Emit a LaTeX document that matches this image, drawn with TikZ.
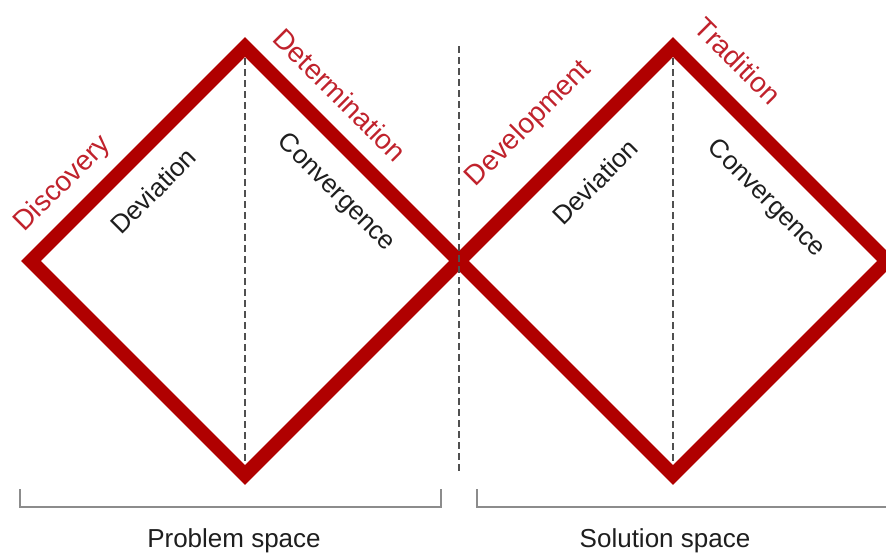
\documentclass[tikz,border=0pt]{standalone}
\usepackage{fontspec}
\setmainfont{Liberation Sans}
\definecolor{dred}{RGB}{176,0,0}
\definecolor{lred}{RGB}{192,34,44}
\definecolor{dgray}{RGB}{80,80,80}
\definecolor{bgray}{RGB}{140,140,140}
\definecolor{txt}{RGB}{30,30,30}
\begin{document}
\begin{tikzpicture}[x=1pt,y=-1pt,
  edge/.style={draw=dred, line width=14pt, line join=miter},
  guide/.style={draw=dgray, line width=1.3pt, dash pattern=on 7pt off 4pt},
  bracket/.style={draw=bgray, line width=1.5pt},
  redlbl/.style={text=lred, font=\fontsize{28}{32}\selectfont, inner sep=0pt},
  blklbl/.style={text=txt, font=\fontsize{26}{30}\selectfont, inner sep=0pt}]
\useasboundingbox (0,0) rectangle (886,554);
\clip (0,0) rectangle (886,554);
% vertices
\coordinate (L1) at (31,261);
\coordinate (T1) at (245,47);
\coordinate (R1) at (459,261);
\coordinate (B1) at (245,475);
\coordinate (T2) at (673,47);
\coordinate (R2) at (887,261);
\coordinate (B2) at (673,475);
\coordinate (Mt) at (459,46);
\coordinate (Mb) at (459,473);
% inner dashed guides
\draw[guide] (T1) -- (B1);
\draw[guide] (T2) -- (B2);
% diamonds
\draw[edge] (L1) -- (T1) -- (R1) -- (B1) -- cycle;
\draw[edge] (R1) -- (T2) -- (R2) -- (B2) -- cycle;
% middle dashed divider
\draw[guide] (Mt) -- (Mb);
% brackets
\coordinate (P1) at (20,489);
\coordinate (P2) at (20,507);
\coordinate (P3) at (441,507);
\coordinate (P4) at (441,489);
\coordinate (S1) at (477,489);
\coordinate (S2) at (477,507);
\coordinate (S3) at (890,507);
\draw[bracket] (P1) -- (P2) -- (P3) -- (P4);
\draw[bracket] (S1) -- (S2) -- (S3);
% labels
\node[redlbl, rotate=45] (disc) at (63,184) {Discovery};
\node[redlbl, rotate=-45] (dete) at (340,95) {Determination};
\node[redlbl, rotate=45] (deve) at (529,124) {Development};
\node[redlbl, rotate=-45] (trad) at (738,61) {Tradition};
\node[blklbl, rotate=45] (dev1) at (153,191) {Deviation};
\node[blklbl, rotate=-45] (con1) at (336,193) {Convergence};
\node[blklbl, rotate=45] (dev2) at (595,182) {Deviation};
\node[blklbl, rotate=-45] (con2) at (766,199) {Convergence};
\node[blklbl, anchor=base] (prob) at (234,547) {Problem space};
\node[blklbl, anchor=base] (solu) at (665,547) {Solution space};
\end{tikzpicture}
\end{document}
